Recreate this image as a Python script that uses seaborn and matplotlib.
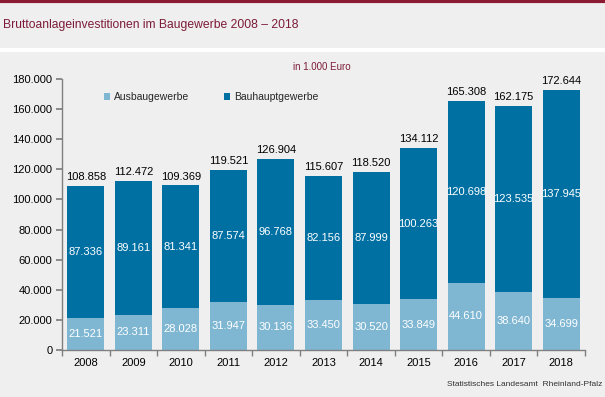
import matplotlib
matplotlib.use("Agg")
import matplotlib.pyplot as plt
import seaborn as sns
import pandas as pd
from matplotlib.patches import Patch
from matplotlib.lines import Line2D

# Data (in 1.000 Euro)
years = ["2008", "2009", "2010", "2011", "2012", "2013", "2014", "2015", "2016", "2017", "2018"]
ausbau = [21521, 23311, 28028, 31947, 30136, 33450, 30520, 33849, 44610, 38640, 34699]
bauhaupt = [87336, 89161, 81341, 87574, 96768, 82156, 87999, 100263, 120698, 123535, 137945]
totals = [108858, 112472, 109369, 119521, 126904, 115607, 118520, 134112, 165308, 162175, 172644]
y_ticks = [0, 20000, 40000, 60000, 80000, 100000, 120000, 140000, 160000, 180000]

BG = "#EEEFEE"
LIGHT = "#7FB7D3"
DARK = "#0070A3"
MAROON = "#7D1C3A"
GRID = "#7F7F7F"

sns.set_theme(style="white")
plt.rcParams["font.family"] = ["Liberation Sans", "DejaVu Sans"]


def fmt(v):
    return f"{v:,}".replace(",", ".")


df = pd.DataFrame({"year": years, "ausbau": ausbau, "bauhaupt": bauhaupt, "total": totals})

fig = plt.figure(figsize=(6.05, 3.97), dpi=100, facecolor=BG)
ax = fig.add_axes([62 / 605, 47 / 397, 523 / 605, 271 / 397])
ax.set_facecolor(BG)

# stacked bars: total (dark) first, then lower segment (light) on top
sns.barplot(data=df, x="year", y="total", color=DARK, width=0.78, saturation=1,
            linewidth=0, ax=ax)
sns.barplot(data=df, x="year", y="ausbau", color=LIGHT, width=0.78, saturation=1,
            linewidth=0, ax=ax)

for i in range(len(years)):
    ax.text(i, ausbau[i] / 2, fmt(ausbau[i]), ha="center", va="center", color="white", fontsize=8)
    ax.text(i, ausbau[i] + bauhaupt[i] / 2, fmt(bauhaupt[i]), ha="center", va="center",
            color="white", fontsize=8)
    ax.text(i, totals[i] + 2500, fmt(totals[i]), ha="center", va="bottom", color="black", fontsize=8)

ax.set_ylim(0, 180000)
ax.set_xlim(-0.5, len(years) - 0.5)
ax.set_yticks(y_ticks)
ax.set_yticklabels([fmt(t) for t in y_ticks], fontsize=8, color="black")
ax.set_xticks(range(len(years)))
ax.set_xticklabels(years, fontsize=8, color="black")
ax.set_xlabel("")
ax.set_ylabel("")

for s in ["top", "right"]:
    ax.spines[s].set_visible(False)
for s in ["left", "bottom"]:
    ax.spines[s].set_color(GRID)
    ax.spines[s].set_linewidth(1)

ax.tick_params(axis="y", which="major", length=4, color=GRID, direction="out", pad=3, left=True)
ax.tick_params(axis="x", which="major", length=0, pad=6)
ax.set_xticks([i - 0.5 for i in range(len(years) + 1)], minor=True)
ax.tick_params(axis="x", which="minor", length=4, color=GRID, direction="out", bottom=True)

handles = [Patch(facecolor=LIGHT, edgecolor="none"), Patch(facecolor=DARK, edgecolor="none")]
ax.legend(handles, ["Ausbaugewerbe", "Bauhauptgewerbe"], ncol=2, frameon=False, fontsize=7.5,
          loc="upper left", bbox_to_anchor=(0.062, 0.985), handlelength=0.6, handleheight=0.6,
          handletextpad=0.4, columnspacing=3.3)

# header decorations
fig.add_artist(Line2D([0, 1], [1 - 1 / 397, 1 - 1 / 397], color="#8B1A33", linewidth=3,
                      transform=fig.transFigure))
fig.add_artist(Line2D([0, 1], [1 - 50 / 397, 1 - 50 / 397], color="white", linewidth=3,
                      transform=fig.transFigure))
fig.text(3 / 605, 1 - 25 / 397, "Bruttoanlageinvestitionen im Baugewerbe 2008 \u2013 2018",
         color=MAROON, fontsize=8.7, va="center", ha="left")
fig.text(322 / 605, 1 - 67 / 397, "in 1.000 Euro", color=MAROON, fontsize=7, ha="center", va="center")
fig.text(602 / 605, 1 - 385 / 397, "Statistisches Landesamt  Rheinland-Pfalz", color="#333333",
         fontsize=6, ha="right", va="center")

fig.savefig("out.png", dpi=100, facecolor=BG)
